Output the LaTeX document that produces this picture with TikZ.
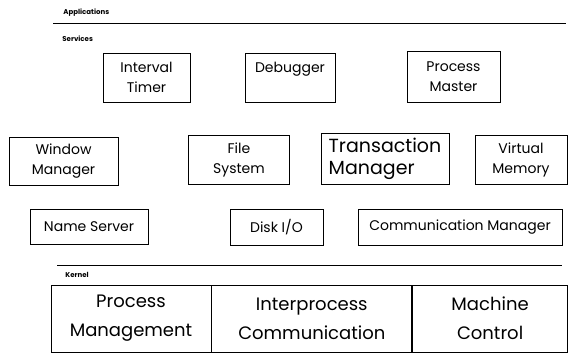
\documentclass[tikz,border=0pt]{standalone}
\usepackage{fontspec}
\setmainfont{Poppins}
\usetikzlibrary{positioning}

\begin{document}
\begin{tikzpicture}
      [x=1pt, y=-1pt, line width=0.8pt, font=\fontsize{14}{20}\selectfont,
      % STYLES
      % The layer style is used for the small names of the layers
      layer/.style={inner sep=0pt, anchor=base west, font=\fontsize{7}{8}\selectfont\bfseries},
      % The service style is used to draw the services' boxes
      service/.style={rectangle, draw, inner sep=2pt, align=center},
      % The kernelPart style is used to draw the parts of the kernel
      kernelPart/.style={rectangle, draw, inner sep=2pt, align=center, minimum height=67pt, font=\fontsize{18}{29}\selectfont}]

      \useasboundingbox (0,0) rectangle (568,356);

      % Draw layers
      \node [layer] (applications) at (63,15) {Applications};
      \coordinate (appLineStart) at (53,23);
      \coordinate (appLineEnd) at (566,23);
      \draw (appLineStart) -- (appLineEnd);
      \node [layer] (services) at (62,41) {Services};

      %%%%%%%%%%%%%%%
      % Services
      \node [service, minimum width=87pt, minimum height=49pt] (intervalTimer) at (146.5,77.5) {Interval\\Timer};
      \node [service, minimum width=90pt, minimum height=49pt] (debugger) at (290,77.5) {Debugger\\\mbox{}};
      \node [service, minimum width=93pt, minimum height=51pt] (processMaster) at (453.5,76.5) {Process\\Master};

      \node [service, minimum width=109pt, minimum height=48pt] (windowManager) at (63.5,161) {Window\\Manager};
      \node [service, minimum width=101pt, minimum height=49pt] (fileSystem) at (239,159.5) {File\\System};
      \node [service, minimum width=128pt, minimum height=51pt, align=left, font=\fontsize{19}{22}\selectfont] (transactionManager) at (385,158.5) {Transaction\\Manager};
      \node [service, minimum width=92pt, minimum height=49pt] (virtualMemory) at (521,159.5) {Virtual\\Memory};

      \node [service, minimum width=118pt, minimum height=35pt] (nameServer) at (89,226.5) {Name Server};
      \node [service, minimum width=93pt, minimum height=36pt] (diskIO) at (276.5,227) {Disk I/O};
      \node [service, minimum width=204pt, minimum height=36pt] (communicationManager) at (460,227) {Communication Manager};

      %%%%%%%%%%%%%%%
      % Kernel
      \coordinate (kernelLineStart) at (57,265);
      \coordinate (kernelLineEnd) at (562,265);
      \draw (kernelLineStart) -- (kernelLineEnd);
      \node [layer] (kernel) at (65,277) {Kernel};

      \node [kernelPart, minimum width=160pt] (processManagement) at (131,318.5) {Process\\Management};
      \node [kernelPart, minimum width=200pt, right=0pt of processManagement] (interprocessCommunication) {Interprocess\\Communication};
      \node [kernelPart, minimum width=155pt, right=0pt of interprocessCommunication] (machineControl) {Machine\\Control};

    \end{tikzpicture}
\end{document}
